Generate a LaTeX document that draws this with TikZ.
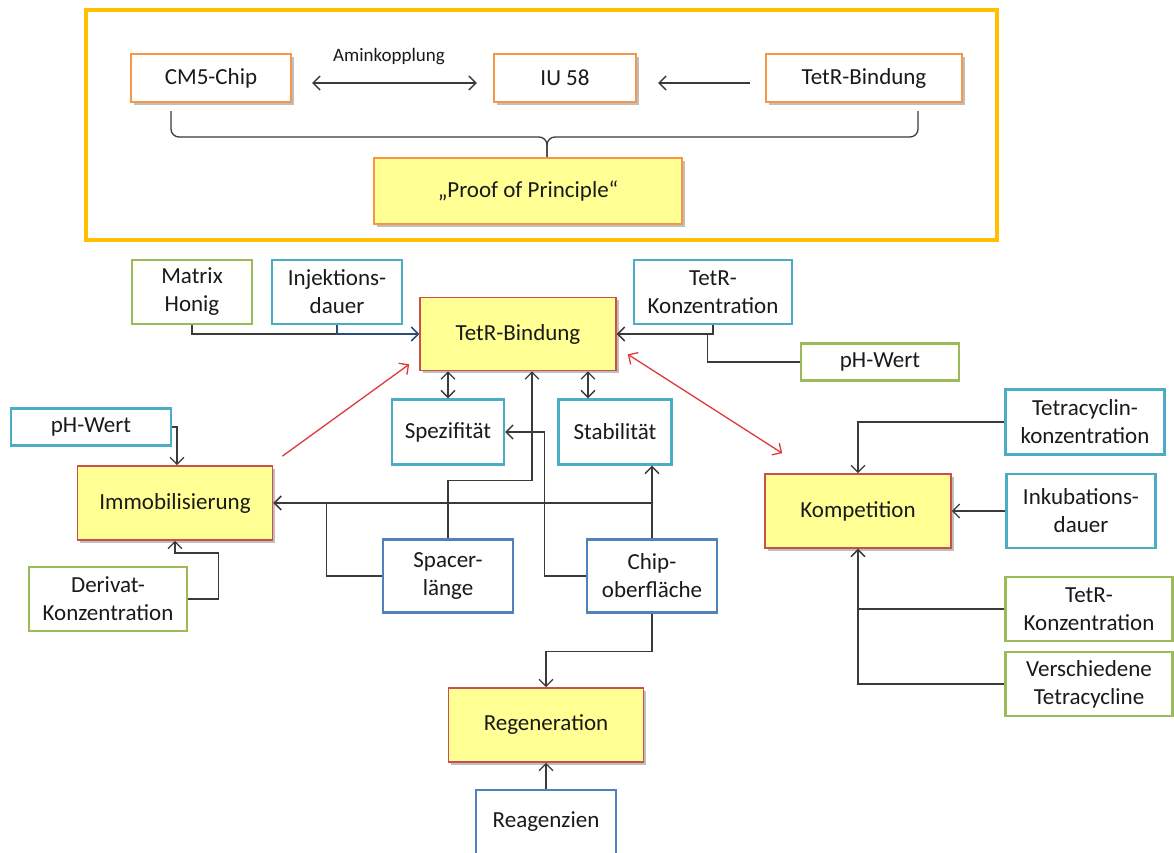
\documentclass[tikz,border=0pt]{standalone}
\usepackage{fontspec}
\setmainfont{Carlito}
\usetikzlibrary{arrows.meta,calc,shadows}

\definecolor{framegold}{HTML}{FFC000}
\definecolor{boxorange}{HTML}{F79646}
\definecolor{boxyellow}{HTML}{FFFF94}
\definecolor{boxred}{HTML}{C9504D}
\definecolor{boxgreen}{HTML}{9BBB59}
\definecolor{boxcyan}{HTML}{4BACC6}
\definecolor{boxblue}{HTML}{4F81BD}
\definecolor{linegray}{HTML}{3A3A3A}
\definecolor{linered}{HTML}{E0383B}
\definecolor{lineblue}{HTML}{2C4D75}
\definecolor{textdark}{HTML}{1A1A1A}

\tikzset{
	box/.style={draw, line width=2.4pt, fill=white, align=center, inner sep=0pt, text=textdark, font=\fontsize{23}{28}\selectfont},
	softshadow/.style={drop shadow={shadow xshift=2.5pt, shadow yshift=-2.5pt, opacity=.25, fill=black}},
	orangebox/.style={box, draw=boxorange, softshadow},
	mainbox/.style={box, draw=boxred, line width=1.6pt, fill=boxyellow, softshadow},
	greenbox/.style={box, draw=boxgreen},
	cyanbox/.style={box, draw=boxcyan},
	bluebox/.style={box, draw=boxblue},
	barb/.tip={Straight Barb[length=7pt,width=14pt,line width=1.3pt]},
	arr/.style={draw=linegray, line width=1.3pt, -barb},
	dbl/.style={draw=linegray, line width=1.3pt, barb-barb},
	redarr/.style={draw=linered, line width=1.3pt, -barb},
	reddbl/.style={draw=linered, line width=1.3pt, barb-barb}
}

\begin{document}
\begin{tikzpicture}[x=1pt, y=-1pt]
	\fill[white] (0,0) rectangle (1174,852);
	\useasboundingbox (0,0) rectangle (1174,852);

	% proof of principle
	\draw[framegold, line width=3.5pt] (86,10) rectangle (997,240);
	\node (cmchip) [orangebox, minimum width=160pt, minimum height=48pt] at (211,78) {CM5-Chip};
	\node (iu) [orangebox, minimum width=142pt, minimum height=48pt] at (565,78) {IU 58};
	\node (tetrtop) [orangebox, minimum width=196pt, minimum height=48pt] at (864,78) {TetR-Bindung};
	\node (proof) [orangebox, fill=boxyellow, minimum width=308pt, minimum height=66pt] at (528,191) {„Proof of Principle“};
	\node (amin) [text=textdark, font=\fontsize{19}{22}\selectfont] at (389,57) {Aminkopplung};
	\draw[dbl, shorten <=20pt, shorten >=16pt] ([yshift=-5pt]cmchip.east) -- ([yshift=-5pt]iu.west);
	\draw[arr, shorten <=15pt, shorten >=21pt] ([yshift=-5pt]tetrtop.west) -- ([yshift=-5pt]iu.east);
	\coordinate (braceleft) at (171,111);
	\coordinate (braceright) at (918,111);
	\coordinate (bracetip) at (547,137);
	\draw[linegray, line width=1.3pt, rounded corners=8pt] (braceleft) |- (bracetip) -- (bracetip |- proof.north);
	\draw[linegray, line width=1.3pt, rounded corners=8pt] (braceright) |- (bracetip) -- (bracetip |- proof.north);

	% main diagram
	\node (matrix) [greenbox, minimum width=120pt, minimum height=64pt] at (192,292) {Matrix\\Honig};
	\node (injektion) [cyanbox, minimum width=130pt, minimum height=64pt] at (337,292) {Injektions-\\dauer};
	\node (tetr) [mainbox, minimum width=196pt, minimum height=73pt] at (518,334) {TetR-Bindung};
	\node (tetrkonz) [cyanbox, minimum width=158pt, minimum height=64pt] at (713,292) {TetR-\\Konzentration};
	\node (phright) [greenbox, minimum width=158pt, minimum height=37pt] at (880,362) {pH-Wert};
	\node (phleft) [cyanbox, minimum width=160pt, minimum height=37pt] at (91,427) {pH-Wert};
	\node (immo) [mainbox, minimum width=195pt, minimum height=74pt] at (175,503) {Immobilisierung};
	\node (spez) [cyanbox, minimum width=112pt, minimum height=65pt] at (448,432) {Spezifität};
	\node (stab) [cyanbox, minimum width=113pt, minimum height=65pt] at (615,432) {Stabilität};
	\node (spacer) [bluebox, minimum width=130pt, minimum height=73pt] at (448,576) {Spacer-\\länge};
	\node (chip) [bluebox, minimum width=130pt, minimum height=73pt] at (652,576) {Chip-\\oberfläche};
	\node (derivat) [greenbox, minimum width=158pt, minimum height=64pt] at (108,599) {Derivat-\\Konzentration};
	\node (komp) [mainbox, minimum width=186pt, minimum height=74pt] at (858,511) {Kompetition};
	\node (tetracyclin) [cyanbox, minimum width=159pt, minimum height=65pt] at (1085,422) {Tetracyclin-\\konzentration};
	\node (inkubation) [cyanbox, minimum width=149pt, minimum height=74pt] at (1081,511) {Inkubations-\\dauer};
	\node (tetrkonzb) [greenbox, minimum width=167pt, minimum height=64pt] at (1089,609) {TetR-\\Konzentration};
	\node (verschieden) [greenbox, minimum width=167pt, minimum height=64pt] at (1089,684) {Verschiedene\\Tetracycline};
	\node (regen) [mainbox, minimum width=195pt, minimum height=74pt] at (546,725) {Regeneration};
	\node (reagenzien) [bluebox, minimum width=140pt, minimum height=64pt] at (546,822) {Reagenzien};

	% connectors
	\draw[arr] (matrix.south) |- (tetr.west);
	\draw[arr, draw=lineblue] (injektion.south) |- (tetr.west);
	\draw[arr] (tetrkonz.south) |- (tetr.east);
	\draw[arr] (phright.west) -- ++(-92,0) |- (tetr.east);
	\draw[redarr] ($(immo.north east)+(9,-9)$) -- ($(tetr.south west)+(-10,-7)$);
	\draw[reddbl] ($(tetr.south east)+(11,-17)$) -- ($(komp.north west)+(18,-20)$);
	\draw[dbl] (spez.north) -- (spez.north |- tetr.south);
	\draw[dbl] ([xshift=-27pt]stab.north) -- ([xshift=-27pt]stab.north |- tetr.south);
	\draw[arr] (spacer.north) -- ++(0,-58) -| ([xshift=14pt]tetr.south);
	\draw[arr] (chip.west) -- ++(-41,0) |- (spez.east);
	\draw[arr] (chip.north) -- (chip.north |- stab.south);
	\draw[arr] (chip.north) |- (immo.east);
	\draw[arr] (spacer.west) -- ++(-55,0) |- (immo.east);
	\draw[arr] (phleft.east) -| ([xshift=2pt]immo.north);
	\draw[arr] (derivat.east) -- ++(30,0) -- ++(0,-46) -| (immo.south);
	\draw[arr] (tetracyclin.west) -| (komp.north);
	\draw[arr] (inkubation.west) -- (komp.east);
	\draw[arr] (tetrkonzb.west) -| (komp.south);
	\draw[arr] (verschieden.west) -| (komp.south);
	\draw[arr] (chip.south) -- ++(0,38) -| (regen.north);
	\draw[arr] (reagenzien.north) -- (regen.south);
\end{tikzpicture}
\end{document}
